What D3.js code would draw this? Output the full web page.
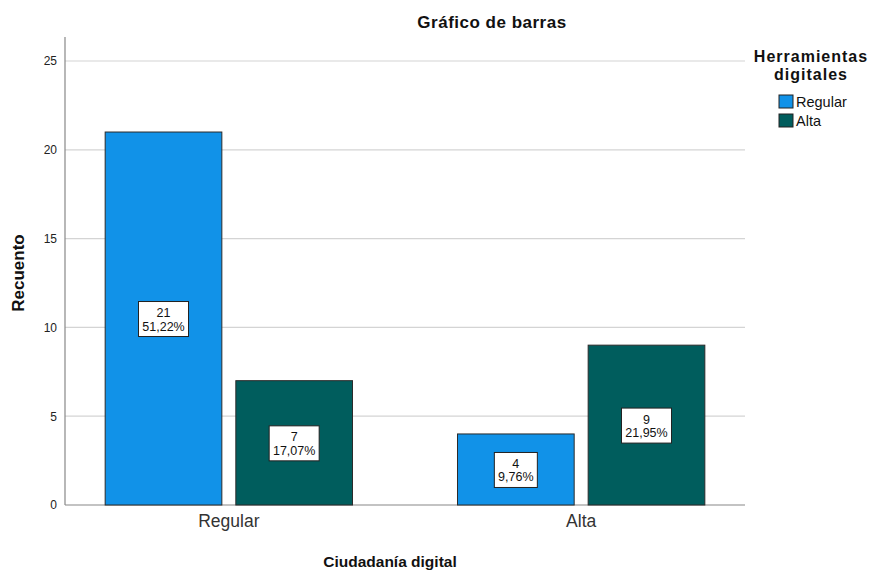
<!DOCTYPE html>
<html>
<head>
<meta charset="utf-8">
<script src="https://cdn.jsdelivr.net/npm/d3@7"></script>
<style>
body { margin: 0; background: #fff; }
text { font-family: Arial, "Liberation Sans", sans-serif; }
</style>
</head>
<body>
<script>
// categories and values
var categories = ["Regular", "Alta"];
var series = ["Regular", "Alta"];
var counts = [[21, 7], [4, 9]];
var percents = [["51,22%", "17,07%"], ["9,76%", "21,95%"]];
var yTicks = [0, 5, 10, 15, 20, 25];
var colors = ["#1192e8", "#005d5d"];

var w = 877, h = 571;
var pl = 65, pr = 745, pt = 37, pb = 505;

var svg = d3.select("body").append("svg")
  .attr("width", w)
  .attr("height", h);

var y = d3.scaleLinear().domain([0, 26.35]).range([pb, pt]);
var x0 = d3.scaleBand().domain(categories).range([pl, pr])
  .paddingInner(0.298).paddingOuter(0.114);
var x1 = d3.scaleBand().domain(series).range([0, x0.bandwidth()])
  .paddingInner(0.107).paddingOuter(0);

// gridlines
svg.selectAll("line.grid")
  .data(yTicks.filter(function(d) { return d > 0; }))
  .enter().append("line")
  .attr("x1", pl).attr("x2", pr)
  .attr("y1", function(d) { return y(d); })
  .attr("y2", function(d) { return y(d); })
  .attr("stroke", "#d4d4d4").attr("stroke-width", 1.2);

// y axis
var yAxis = svg.append("g")
  .attr("transform", "translate(" + pl + ",0)")
  .call(d3.axisLeft(y).tickValues(yTicks).tickSize(0).tickPadding(8));
yAxis.select(".domain").remove();
yAxis.selectAll("text").attr("font-size", "12px").attr("fill", "#222")
  .style("font-family", "Arial, 'Liberation Sans', sans-serif");
svg.append("line")
  .attr("x1", pl).attr("x2", pl).attr("y1", pt).attr("y2", pb)
  .attr("stroke", "#888").attr("stroke-width", 1.2);

// x axis
var xAxis = svg.append("g")
  .attr("transform", "translate(0," + pb + ")")
  .call(d3.axisBottom(x0).tickSize(0).tickPadding(10));
xAxis.select(".domain").remove();
xAxis.selectAll("text").attr("font-size", "17.5px").attr("fill", "#333")
  .style("font-family", "Arial, 'Liberation Sans', sans-serif");
svg.append("line")
  .attr("x1", pl).attr("x2", pr).attr("y1", pb).attr("y2", pb)
  .attr("stroke", "#888").attr("stroke-width", 1.2);

// bars
var groups = svg.selectAll("g.grp")
  .data(categories)
  .enter().append("g")
  .attr("class", "grp")
  .attr("transform", function(d) { return "translate(" + x0(d) + ",0)"; });

function rows(d, i) {
  return series.map(function(s, j) {
    return { s: s, j: j, v: counts[i][j], p: percents[i][j] };
  });
}

groups.selectAll("rect.bar")
  .data(rows)
  .enter().append("rect")
  .attr("class", "bar")
  .attr("x", function(d) { return x1(d.s); })
  .attr("y", function(d) { return y(d.v); })
  .attr("width", x1.bandwidth())
  .attr("height", function(d) { return pb - y(d.v); })
  .attr("fill", function(d) { return colors[d.j]; })
  .attr("stroke", "#2b2b2b").attr("stroke-width", 1);

// value labels
var labels = groups.selectAll("g.lab")
  .data(rows)
  .enter().append("g")
  .attr("class", "lab")
  .attr("transform", function(d) {
    return "translate(" + (x1(d.s) + x1.bandwidth() / 2) + "," + ((y(d.v) + pb) / 2) + ")";
  });

labels.append("rect")
  .attr("x", function(d) { return d.p.length > 5 ? -25 : -21.5; })
  .attr("y", -17)
  .attr("width", function(d) { return d.p.length > 5 ? 50 : 43; })
  .attr("height", 35)
  .attr("fill", "#fff").attr("stroke", "#222").attr("stroke-width", 1);

labels.append("text")
  .attr("text-anchor", "middle").attr("y", -1.5)
  .attr("font-size", "12.5px").attr("fill", "#111")
  .text(function(d) { return d.v; });
labels.append("text")
  .attr("text-anchor", "middle").attr("y", 12)
  .attr("font-size", "12.5px").attr("fill", "#111")
  .text(function(d) { return d.p; });

// titles
svg.append("text")
  .attr("x", 492).attr("y", 28)
  .attr("text-anchor", "middle")
  .attr("font-size", "17px").attr("font-weight", "bold").attr("fill", "#111")
  .attr("letter-spacing", "0.5px")
  .text("Gráfico de barras");

svg.append("text")
  .attr("x", 390).attr("y", 567)
  .attr("text-anchor", "middle")
  .attr("font-size", "15.5px").attr("font-weight", "bold").attr("fill", "#111")
  .text("Ciudadanía digital");

svg.append("text")
  .attr("transform", "translate(24,273) rotate(-90)")
  .attr("text-anchor", "middle")
  .attr("font-size", "17px").attr("font-weight", "bold").attr("fill", "#111")
  .text("Recuento");

// legend
var legend = svg.append("g");
legend.append("text")
  .attr("x", 811).attr("y", 62)
  .attr("text-anchor", "middle")
  .attr("font-size", "16px").attr("font-weight", "bold").attr("fill", "#111")
  .attr("letter-spacing", "1px")
  .text("Herramientas");
legend.append("text")
  .attr("x", 811).attr("y", 80)
  .attr("text-anchor", "middle")
  .attr("font-size", "16px").attr("font-weight", "bold").attr("fill", "#111")
  .attr("letter-spacing", "1px")
  .text("digitales");

var items = legend.selectAll("g.item")
  .data(series)
  .enter().append("g")
  .attr("class", "item")
  .attr("transform", function(d, i) { return "translate(779," + (95 + i * 19) + ")"; });
items.append("rect")
  .attr("width", 14).attr("height", 13)
  .attr("fill", function(d, i) { return colors[i]; })
  .attr("stroke", "#222").attr("stroke-width", 1);
items.append("text")
  .attr("x", 17).attr("y", 11.5)
  .attr("font-size", "14.5px").attr("fill", "#111")
  .text(function(d) { return d; });
</script>
</body>
</html>
